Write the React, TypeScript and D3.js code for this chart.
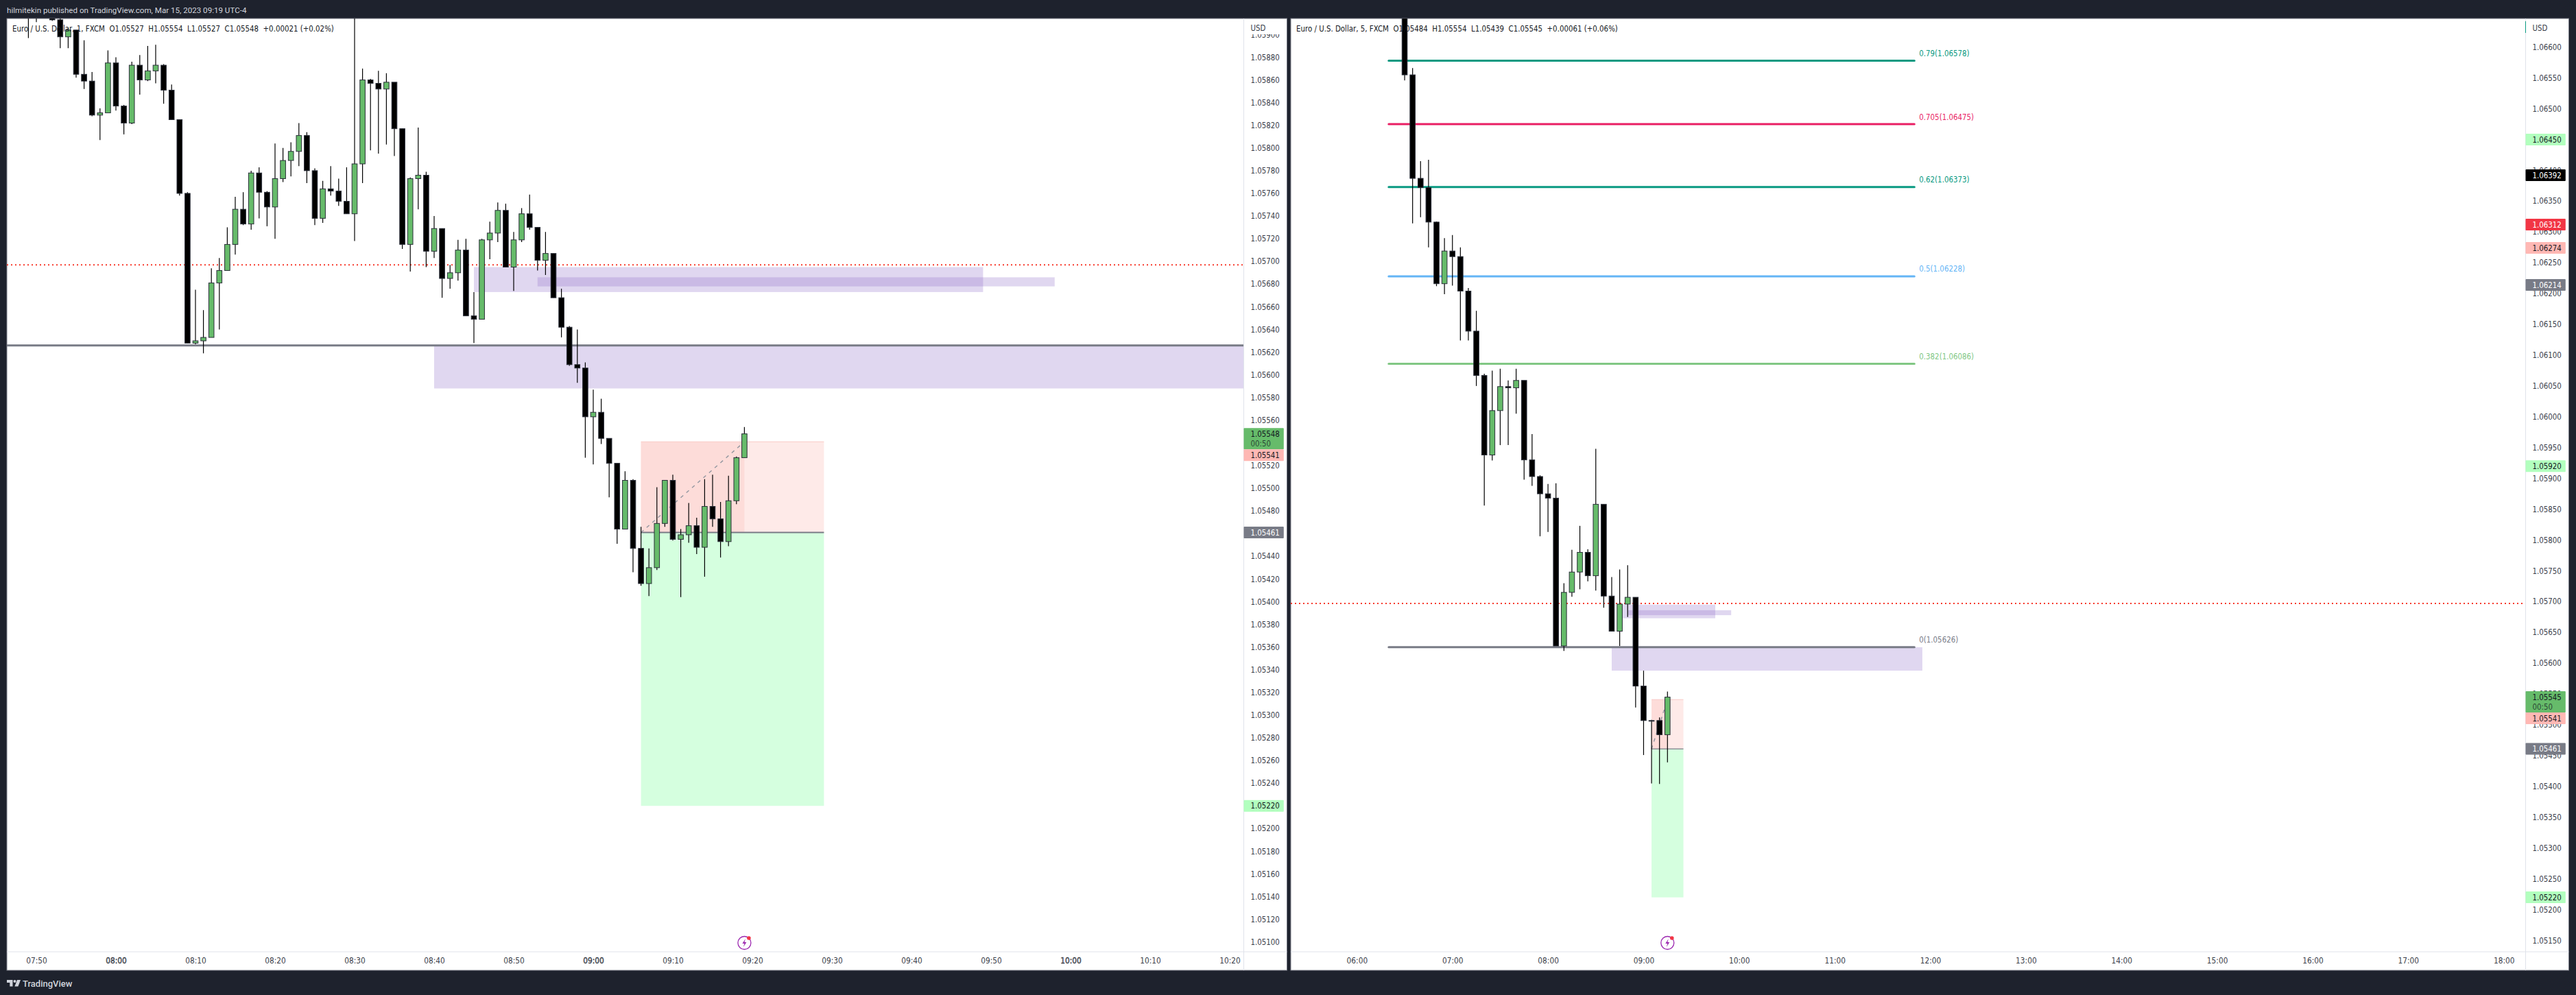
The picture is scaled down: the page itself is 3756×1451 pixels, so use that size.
import React, { useEffect, useRef } from "react";
import * as d3 from "d3";

// 1 minute pane, first bar is 07:49
const leftFirstMinute = 469;
const leftOpen = [
  1.0594, 1.05935, 1.0593, 1.05935, 1.05913, 1.05898, 1.05904, 1.05865, 1.05859, 1.05829,
  1.05831, 1.05875, 1.05837, 1.05822, 1.05873, 1.0586, 1.05868, 1.05873, 1.05851, 1.05825,
  1.0576, 1.05628, 1.0563, 1.05633, 1.05681, 1.05692, 1.05715, 1.05746, 1.05733, 1.05778,
  1.05761, 1.05748, 1.05773, 1.05789, 1.05797, 1.05811, 1.0578, 1.05738, 1.05764, 1.05762,
  1.05753, 1.05742, 1.05786, 1.0586, 1.05857, 1.05852, 1.05858, 1.05817, 1.05715, 1.05773,
  1.05776, 1.05709, 1.05729, 1.05685, 1.0569, 1.0571, 1.05652, 1.05649, 1.05719, 1.05725,
  1.05745, 1.05695, 1.05719, 1.05742, 1.0573, 1.05701, 1.05707, 1.05668, 1.05642, 1.05609,
  1.05606, 1.05563, 1.05567, 1.05544, 1.05522, 1.05464, 1.05507, 1.05447, 1.05416, 1.0543,
  1.05469, 1.05507, 1.05455, 1.05459, 1.05467, 1.05448, 1.05484, 1.05473, 1.05453, 1.05489,
  1.05527,
];
const leftHigh = [
  1.05945, 1.0594, 1.05935, 1.0594, 1.05925, 1.05906, 1.05904, 1.05895, 1.05867, 1.05835,
  1.05886, 1.0588, 1.05838, 1.05876, 1.05882, 1.0589, 1.05891, 1.05874, 1.05856, 1.05825,
  1.05761, 1.05675, 1.05657, 1.05694, 1.05703, 1.0573, 1.05757, 1.05761, 1.0578, 1.05783,
  1.05762, 1.05804, 1.058, 1.05805, 1.05822, 1.05814, 1.05782, 1.05771, 1.05784, 1.05773,
  1.05783, 1.05948, 1.0587, 1.05861, 1.05868, 1.05866, 1.05858, 1.05817, 1.05774, 1.05818,
  1.05779, 1.0574, 1.05729, 1.05697, 1.05719, 1.0572, 1.05673, 1.0572, 1.05735, 1.05752,
  1.05751, 1.05726, 1.05747, 1.05759, 1.0573, 1.05726, 1.05707, 1.05676, 1.05643, 1.0564,
  1.05611, 1.05587, 1.05579, 1.05544, 1.05522, 1.05515, 1.05508, 1.05466, 1.05447, 1.05501,
  1.05507, 1.05512, 1.05464, 1.05487, 1.05474, 1.05508, 1.05512, 1.05488, 1.05511, 1.05528,
  1.05554,
];
const leftLow = [
  1.05897, 1.05911, 1.05916, 1.05912, 1.05888, 1.05888, 1.05862, 1.05852, 1.05828, 1.05807,
  1.05831, 1.05833, 1.05812, 1.05821, 1.05847, 1.05859, 1.05857, 1.05839, 1.05825, 1.05758,
  1.05628, 1.05627, 1.05619, 1.05633, 1.0564, 1.05692, 1.05706, 1.05732, 1.05728, 1.05738,
  1.05731, 1.0572, 1.0577, 1.05775, 1.05784, 1.05769, 1.05732, 1.05734, 1.05758, 1.05749,
  1.05742, 1.05718, 1.05769, 1.05798, 1.05795, 1.05803, 1.05793, 1.05711, 1.05691, 1.05746,
  1.05695, 1.05703, 1.05668, 1.05676, 1.05683, 1.05652, 1.05628, 1.05649, 1.05702, 1.05717,
  1.05695, 1.05674, 1.05717, 1.05728, 1.05692, 1.05688, 1.05668, 1.05633, 1.05608, 1.05593,
  1.05527, 1.05521, 1.05539, 1.05492, 1.05451, 1.05464, 1.05426, 1.05414, 1.05405, 1.05428,
  1.05466, 1.05454, 1.05404, 1.05452, 1.05442, 1.05422, 1.05466, 1.05439, 1.05449, 1.05486,
  1.05527,
];
const leftClose = [
  1.0593, 1.05925, 1.0592, 1.05913, 1.05898, 1.05904, 1.05865, 1.05859, 1.05829, 1.05831,
  1.05875, 1.05837, 1.05822, 1.05873, 1.0586, 1.05868, 1.05873, 1.05851, 1.05825, 1.0576,
  1.05628, 1.0563, 1.05633, 1.05681, 1.05692, 1.05715, 1.05746, 1.05733, 1.05778, 1.05761,
  1.05748, 1.05773, 1.05789, 1.05797, 1.05811, 1.0578, 1.05738, 1.05764, 1.05762, 1.05753,
  1.05742, 1.05786, 1.0586, 1.05857, 1.05852, 1.05858, 1.05817, 1.05715, 1.05773, 1.05776,
  1.05709, 1.05729, 1.05685, 1.0569, 1.0571, 1.05652, 1.05649, 1.05719, 1.05725, 1.05745,
  1.05695, 1.05719, 1.05742, 1.0573, 1.05701, 1.05707, 1.05668, 1.05642, 1.05609, 1.05606,
  1.05563, 1.05567, 1.05544, 1.05522, 1.05464, 1.05507, 1.05447, 1.05416, 1.0543, 1.05469,
  1.05507, 1.05455, 1.05459, 1.05467, 1.05448, 1.05484, 1.05473, 1.05453, 1.05489, 1.05527,
  1.05548,
];

// 5 minute pane, first bar is 06:30
const rightFirstMinute = 390;
const rightOpen = [
  1.067, 1.06555, 1.06387, 1.06372, 1.06316, 1.06216, 1.06269, 1.0626, 1.06204, 1.06139,
  1.06067, 1.05938, 1.0601, 1.06049, 1.06047, 1.06059, 1.0593, 1.05903, 1.05875, 1.05868,
  1.05628, 1.05715, 1.05748, 1.0578, 1.05742, 1.05858, 1.05709, 1.05652, 1.05696, 1.05707,
  1.05563, 1.05507, 1.05507, 1.05484,
];
const rightHigh = [
  1.0671, 1.06566, 1.06415, 1.06417, 1.06317, 1.0629, 1.06295, 1.06275, 1.06209, 1.06172,
  1.0607, 1.06075, 1.06078, 1.06059, 1.06078, 1.06059, 1.05972, 1.05905, 1.05891, 1.05892,
  1.0573, 1.05784, 1.05823, 1.05785, 1.05948, 1.05858, 1.0574, 1.05752, 1.05759, 1.05707,
  1.05588, 1.05508, 1.05512, 1.05554,
];
const rightLow = [
  1.06546, 1.06314, 1.06324, 1.06275, 1.06212, 1.06199, 1.06213, 1.06124, 1.06124, 1.0605,
  1.05856, 1.05929, 1.05954, 1.05954, 1.06005, 1.05898, 1.05888, 1.05806, 1.05813, 1.05628,
  1.0562, 1.05708, 1.0572, 1.05733, 1.05718, 1.0569, 1.05652, 1.05628, 1.05675, 1.05528,
  1.05451, 1.05405, 1.05404, 1.05439,
];
const rightClose = [
  1.06555, 1.06387, 1.06372, 1.06316, 1.06216, 1.06269, 1.0626, 1.06204, 1.06139, 1.06067,
  1.05938, 1.0601, 1.06049, 1.06047, 1.06059, 1.0593, 1.05903, 1.05875, 1.05868, 1.05628,
  1.05715, 1.05748, 1.0578, 1.05742, 1.05858, 1.05709, 1.05652, 1.05696, 1.05707, 1.05563,
  1.05507, 1.05507, 1.05484, 1.05545,
];

const leftTimeTicks = [470, 480, 490, 500, 510, 520, 530, 540, 550, 560, 570, 580, 590, 600, 610, 620];
const rightTimeTicks = [360, 420, 480, 540, 600, 660, 720, 780, 840, 900, 960, 1020, 1080];

// fib levels, right pane only
const fibRatios = ["0.79", "0.705", "0.62", "0.5", "0.382", "0"];
const fibPrices = [1.06578, 1.06475, 1.06373, 1.06228, 1.06086, 1.05626];
const fibColors = ["#089981", "#e91e63", "#089981", "#64b5f6", "#81c784", "#787b86"];

const keyLevel = 1.05626;
const dottedLevel = 1.05697;
const entryPrice = 1.05461;
const stopPrice = 1.05541;
const targetPrice = 1.0522;

type PriceTag = { value: number; fill: string; text: string; countdown?: string };

const leftTags: PriceTag[] = [
  { value: 1.05548, fill: "#66bb6a", text: "#131722", countdown: "00:50" },
  { value: 1.05541, fill: "#ffb8b4", text: "#131722" },
  { value: 1.05461, fill: "#787b86", text: "#ffffff" },
  { value: 1.0522, fill: "#b2ffbe", text: "#131722" },
];
const rightTags: PriceTag[] = [
  { value: 1.0645, fill: "#b2ffbe", text: "#131722" },
  { value: 1.06392, fill: "#000000", text: "#ffffff" },
  { value: 1.06312, fill: "#f23645", text: "#ffffff" },
  { value: 1.06274, fill: "#ffb8b4", text: "#131722" },
  { value: 1.06214, fill: "#787b86", text: "#ffffff" },
  { value: 1.0592, fill: "#b2ffbe", text: "#131722" },
  { value: 1.05545, fill: "#66bb6a", text: "#131722", countdown: "00:50" },
  { value: 1.05541, fill: "#ffb8b4", text: "#131722" },
  { value: 1.05461, fill: "#787b86", text: "#ffffff" },
  { value: 1.0522, fill: "#b2ffbe", text: "#131722" },
];

const uiFont = "'DejaVu Sans Condensed', 'DejaVu Sans', sans-serif";
const uiSize = 11.4;
const scaleTextColor = "#3a3e49";
const zoneColor = "#9575cd";

const clock = (m: number) => d3.format("02d")(Math.floor(m / 60)) + ":" + d3.format("02d")(m % 60);

interface Pane {
  id: string;
  left: number;
  right: number;
  axisX: number;
  x: d3.ScaleLinear<number, number>;
  y: d3.ScaleLinear<number, number>;
  barMinutes: number;
  firstMinute: number;
  open: number[];
  high: number[];
  low: number[];
  close: number[];
  priceTicks: number[];
  timeTicks: number[];
  boldHours: boolean;
  legend: string;
  tags: PriceTag[];
  zones: [number, number, number, number][];
  position: { start: number; now: number; end: number };
  signalMinute: number;
}

const panelTop = 27;
const panelBottom = 1415;
const timeAxisY = 1388;

function drawPane(svg: d3.Selection<SVGSVGElement, unknown, null, undefined>, p: Pane) {
  const g = svg.append("g");

  g.append("rect")
    .attr("x", p.left)
    .attr("y", panelTop)
    .attr("width", p.right - p.left)
    .attr("height", panelBottom - panelTop)
    .attr("fill", "#ffffff")
    .attr("stroke", "#787b86")
    .attr("stroke-width", 1);

  const defs = svg.append("defs");
  defs
    .append("clipPath")
    .attr("id", `plot-${p.id}`)
    .append("rect")
    .attr("x", p.left)
    .attr("y", panelTop)
    .attr("width", p.axisX - p.left)
    .attr("height", timeAxisY - panelTop);
  defs
    .append("clipPath")
    .attr("id", `scale-${p.id}`)
    .append("rect")
    .attr("x", p.axisX)
    .attr("y", 50)
    .attr("width", p.right - p.axisX)
    .attr("height", timeAxisY - 50);

  const plot = g.append("g").attr("clip-path", `url(#plot-${p.id})`);

  // order zones
  p.zones.forEach(([t0, t1, top, bottom]) => {
    plot
      .append("rect")
      .attr("x", p.x(t0))
      .attr("y", p.y(top))
      .attr("width", p.x(t1) - p.x(t0))
      .attr("height", p.y(bottom) - p.y(top))
      .attr("fill", zoneColor)
      .attr("fill-opacity", 0.29);
  });

  // short position
  const pos = p.position;
  const box = (t0: number, t1: number, top: number, bottom: number, fill: string) =>
    plot
      .append("rect")
      .attr("x", p.x(t0))
      .attr("y", p.y(top))
      .attr("width", p.x(t1) - p.x(t0))
      .attr("height", p.y(bottom) - p.y(top))
      .attr("fill", fill);
  box(pos.start, pos.end, stopPrice, entryPrice, "#feeae8");
  box(pos.start, pos.now, stopPrice, entryPrice, "#fddcd9");
  box(pos.start, pos.end, entryPrice, targetPrice, "#d5ffdf");
  plot
    .append("line")
    .attr("x1", p.x(pos.start))
    .attr("x2", p.x(pos.end))
    .attr("y1", p.y(stopPrice))
    .attr("y2", p.y(stopPrice))
    .attr("stroke", "#f8c9c5")
    .attr("stroke-width", 1);
  plot
    .append("line")
    .attr("x1", p.x(pos.start))
    .attr("x2", p.x(pos.now))
    .attr("y1", p.y(entryPrice))
    .attr("y2", p.y(stopPrice))
    .attr("stroke", "#9598a1")
    .attr("stroke-width", 1.5)
    .attr("stroke-dasharray", "5 6");
  plot
    .append("line")
    .attr("x1", p.x(pos.start))
    .attr("x2", p.x(pos.end))
    .attr("y1", p.y(entryPrice))
    .attr("y2", p.y(entryPrice))
    .attr("stroke", "#787b86")
    .attr("stroke-width", p.id === "left" ? 2 : 1.2);

  plot
    .append("line")
    .attr("x1", p.left)
    .attr("x2", p.axisX)
    .attr("y1", p.y(dottedLevel))
    .attr("y2", p.y(dottedLevel))
    .attr("stroke", "#f7392b")
    .attr("stroke-width", 2)
    .attr("stroke-dasharray", "2 4");

  if (p.id === "left") {
    plot
      .append("line")
      .attr("x1", p.left)
      .attr("x2", p.axisX)
      .attr("y1", p.y(keyLevel))
      .attr("y2", p.y(keyLevel))
      .attr("stroke", "#787b86")
      .attr("stroke-width", 3);
  } else {
    const fibStart = p.x(380);
    const fibEnd = p.x(710);
    fibPrices.forEach((price, i) => {
      plot
        .append("line")
        .attr("x1", fibStart)
        .attr("x2", fibEnd)
        .attr("y1", p.y(price))
        .attr("y2", p.y(price))
        .attr("stroke", fibColors[i])
        .attr("stroke-width", 3)
        .attr("stroke-linecap", "round");
      plot
        .append("text")
        .attr("x", fibEnd + 7)
        .attr("y", p.y(price) - 6.5)
        .attr("fill", fibColors[i])
        .style("font", `${uiSize}px ${uiFont}`)
        .text(`${fibRatios[i]}(${price.toFixed(5)})`);
    });
  }

  // candles
  const bars = d3.range(p.open.length);
  const barX = (i: number) => p.x(p.firstMinute + i * p.barMinutes);
  plot
    .append("g")
    .selectAll("line")
    .data(bars)
    .enter()
    .append("line")
    .attr("x1", barX)
    .attr("x2", barX)
    .attr("y1", (i) => p.y(p.high[i]))
    .attr("y2", (i) => p.y(p.low[i]))
    .attr("stroke", "#000000")
    .attr("stroke-width", 1.2);
  plot
    .append("g")
    .selectAll("rect")
    .data(bars)
    .enter()
    .append("rect")
    .attr("x", (i) => barX(i) - 3.8)
    .attr("width", 7.6)
    .attr("y", (i) => p.y(Math.max(p.open[i], p.close[i])))
    .attr("height", (i) => Math.max(1, Math.abs(p.y(p.open[i]) - p.y(p.close[i]))))
    .attr("fill", (i) => (p.close[i] > p.open[i] ? "#66bb6a" : "#000000"))
    .attr("stroke", "#2a2e39")
    .attr("stroke-width", 1);

  // legend
  g.append("text")
    .attr("x", p.left + 8)
    .attr("y", 45.8)
    .attr("fill", "#131722")
    .style("font", `${uiSize}px ${uiFont}`)
    .style("white-space", "pre")
    .attr("xml:space", "preserve")
    .text(p.legend);

  // axis separators
  g.append("line")
    .attr("x1", p.axisX)
    .attr("x2", p.axisX)
    .attr("y1", panelTop)
    .attr("y2", panelBottom)
    .attr("stroke", "#e0e3eb")
    .attr("stroke-width", 1);
  g.append("line")
    .attr("x1", p.left)
    .attr("x2", p.right)
    .attr("y1", timeAxisY)
    .attr("y2", timeAxisY)
    .attr("stroke", "#e0e3eb")
    .attr("stroke-width", 1);

  // price axis
  const yAxis = g
    .append("g")
    .attr("clip-path", `url(#scale-${p.id})`)
    .append("g")
    .attr("transform", `translate(${p.axisX + 10},0)`)
    .call(
      d3
        .axisRight(p.y)
        .tickValues(p.priceTicks)
        .tickSize(0)
        .tickPadding(0)
        .tickFormat((d) => (d as number).toFixed(5))
    );
  yAxis.select(".domain").remove();
  yAxis.selectAll("text").attr("fill", scaleTextColor).style("font", `${uiSize}px ${uiFont}`);

  g.append("text")
    .attr("x", p.axisX + 10)
    .attr("y", 44.8)
    .attr("fill", scaleTextColor)
    .style("font", `${uiSize}px ${uiFont}`)
    .text("USD");

  // time axis
  const xAxis = g
    .append("g")
    .attr("transform", `translate(0,${timeAxisY + 9})`)
    .call(
      d3
        .axisBottom(p.x)
        .tickValues(p.timeTicks)
        .tickSize(0)
        .tickPadding(0)
        .tickFormat((d) => clock(d as number))
    );
  xAxis.select(".domain").remove();
  xAxis
    .selectAll<SVGTextElement, number>("text")
    .attr("fill", scaleTextColor)
    .style("font", `${uiSize + 0.4}px ${uiFont}`)
    .attr("stroke", (d) => (p.boldHours && d % 60 === 0 ? scaleTextColor : "none"))
    .attr("stroke-width", 0.35);

  // price tags, a tag that would overlap the one above it is pushed down
  const tagRight = p.right - 4.7;
  let prevBottom = -Infinity;
  p.tags.forEach((tag) => {
    const h = tag.countdown ? 31 : 17;
    const top = Math.max(p.y(tag.value) - 8.5, prevBottom);
    prevBottom = top + h;
    g.append("rect")
      .attr("x", p.axisX)
      .attr("y", top)
      .attr("width", tagRight - p.axisX)
      .attr("height", h)
      .attr("rx", 1)
      .attr("fill", tag.fill);
    g.append("text")
      .attr("x", p.axisX + 10)
      .attr("y", top + 12.6)
      .attr("fill", tag.text)
      .style("font", `${uiSize}px ${uiFont}`)
      .text(tag.value.toFixed(5));
    if (tag.countdown) {
      g.append("text")
        .attr("x", p.axisX + 10)
        .attr("y", top + 26.5)
        .attr("fill", tag.text)
        .attr("fill-opacity", 0.75)
        .style("font", `${uiSize}px ${uiFont}`)
        .text(tag.countdown);
    }
  });

  // marker at bottom of chart
  const mx = p.x(p.signalMinute);
  const icon = g.append("g").attr("transform", `translate(${mx},1375)`);
  icon.append("circle").attr("r", 9.5).attr("fill", "#ffffff").attr("stroke", "#9c27b0").attr("stroke-width", 1.3);
  icon
    .append("path")
    .attr("d", "M1.5,-6 L-3,1 L0,1 L-1.5,6 L3,-1 L0,-1 Z")
    .attr("fill", "#9c27b0");
  icon.append("circle").attr("cx", 6.5).attr("cy", -7).attr("r", 2.8).attr("fill", "#f23645");
}

export default function App() {
  const svgRef = useRef<SVGSVGElement>(null);

  useEffect(() => {
    if (!svgRef.current) return;
    const svg = d3.select(svgRef.current);
    svg.selectAll("*").remove();

    svg.append("rect").attr("width", 3756).attr("height", 1451).attr("fill", "#1e222d");

    svg
      .append("text")
      .attr("x", 10)
      .attr("y", 19)
      .attr("fill", "#d1d4dc")
      .style("font", "11.6px Roboto, sans-serif")
      .text("hilmitekin published on TradingView.com, Mar 15, 2023 09:19 UTC-4");

    drawPane(svg, {
      id: "left",
      left: 10,
      right: 1876.5,
      axisX: 1813.5,
      // 11.6px per minute
      x: d3.scaleLinear().domain([480, 580]).range([169, 1329]),
      y: d3.scaleLinear().domain([1.0588, 1.0534]).range([83.5, 976.7]),
      barMinutes: 1,
      firstMinute: leftFirstMinute,
      open: leftOpen,
      high: leftHigh,
      low: leftLow,
      close: leftClose,
      // 1.05540 sits fully under the countdown tag, it never shows
      priceTicks: d3
        .range(0, 41)
        .map((i) => 1.059 - i * 0.0002)
        .filter((t) => Math.abs(t - 1.0554) > 1e-6),
      timeTicks: leftTimeTicks,
      boldHours: true,
      legend: "Euro / U.S. Dollar, 1, FXCM  O1.05527  H1.05554  L1.05527  C1.05548  +0.00021 (+0.02%)",
      tags: leftTags,
      zones: [
        [520, 700, 1.05626, 1.05588],
        [525, 589, 1.05695, 1.05673],
        [533, 598, 1.05686, 1.05678],
      ],
      position: { start: 546, now: 559, end: 569 },
      signalMinute: 559,
    });

    drawPane(svg, {
      id: "right",
      left: 1882,
      right: 3745.5,
      axisX: 3682.5,
      x: d3.scaleLinear().domain([555, 1080]).range([2431.3, 3650.7]),
      y: d3.scaleLinear().domain([1.066, 1.0515]).range([68.7, 1371.5]),
      barMinutes: 5,
      firstMinute: rightFirstMinute,
      open: rightOpen,
      high: rightHigh,
      low: rightLow,
      close: rightClose,
      priceTicks: d3.range(0, 30).map((i) => 1.066 - i * 0.0005),
      timeTicks: rightTimeTicks,
      boldHours: false,
      legend: "Euro / U.S. Dollar, 5, FXCM  O1.05484  H1.05554  L1.05439  C1.05545  +0.00061 (+0.06%)",
      tags: rightTags,
      zones: [
        [520, 715, 1.05626, 1.05588],
        [527, 585, 1.05695, 1.05673],
        [530, 595, 1.05686, 1.05678],
      ],
      position: { start: 545, now: 555, end: 565 },
      signalMinute: 555,
    });

    // right axis marker at the top
    svg
      .append("line")
      .attr("x1", 3682.5)
      .attr("x2", 3682.5)
      .attr("y1", 31)
      .attr("y2", 48)
      .attr("stroke", "#089981")
      .attr("stroke-width", 1);

    // TradingView mark
    const logo = svg.append("g").attr("fill", "#d1d4dc");
    logo.append("path").attr("d", "M10,1429 h8.5 v9.5 h-4.2 v-5.5 h-4.3 Z");
    logo.append("circle").attr("cx", 21.5).attr("cy", 1431).attr("r", 2);
    logo.append("path").attr("d", "M25,1429 h5 l-3.6,9.5 h-5 Z");
    svg
      .append("text")
      .attr("x", 33)
      .attr("y", 1438.5)
      .attr("fill", "#d1d4dc")
      .style("font", "500 13px Roboto, sans-serif")
      .text("TradingView");
  }, []);

  return (
    <svg
      ref={svgRef}
      width={3756}
      height={1451}
      viewBox="0 0 3756 1451"
      style={{ position: "absolute", left: 0, top: 0, display: "block" }}
    />
  );
}
